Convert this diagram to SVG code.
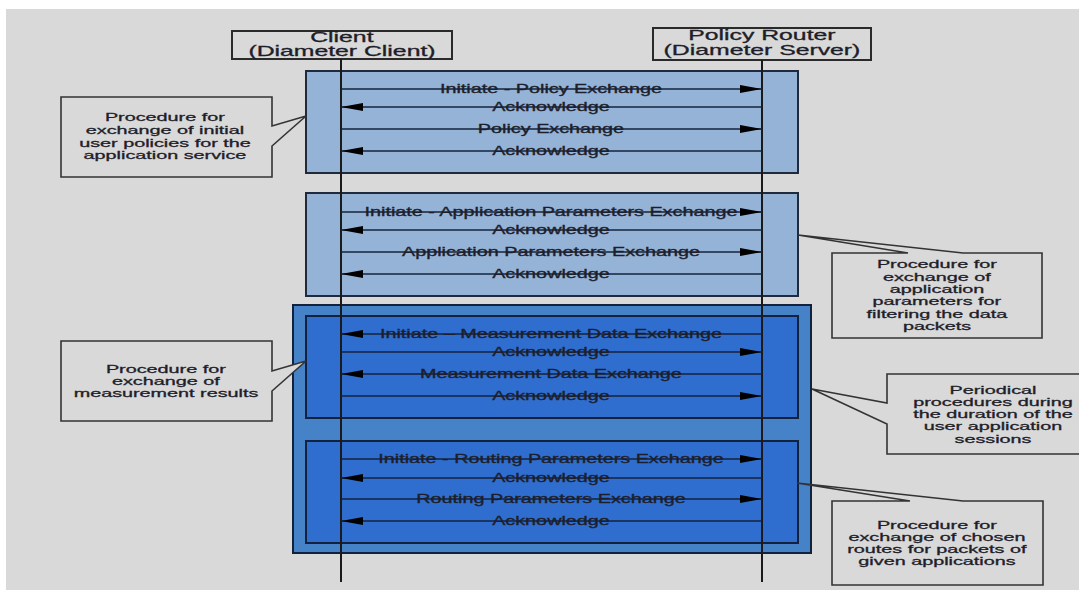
<svg xmlns="http://www.w3.org/2000/svg" width="1079" height="590" viewBox="0 0 1079 590">
  <style>
    text { font-family: "Liberation Sans", Arial, sans-serif; fill: #1e1e2a; stroke: #1e1e2a; stroke-width: 0.3; }
    .s { transform-box: fill-box; transform-origin: center; transform: scaleX(1.65); }
    .sh { transform-box: fill-box; transform-origin: center; transform: scaleX(1.77); }
    .sn { transform-box: fill-box; transform-origin: center; transform: scaleX(1.8); }
    .head { font-size: 14px; text-anchor: middle; }
    .lbl { font-size: 12px; text-anchor: middle; }
    .note { font-size: 11px; text-anchor: middle; }
    .actor { fill: none; stroke: #2a2a2a; stroke-width: 2; }
    .callout { fill: #d9d9d9; stroke: #333; stroke-width: 1.6; stroke-linejoin: miter; }
    .light { fill: #95b3d7; stroke: #1f2b3d; stroke-width: 2; }
    .outer { fill: #4682c8; stroke: #12223c; stroke-width: 2; }
    .inner { fill: #2f6ecf; stroke: #12223c; stroke-width: 2; }
    .msg { stroke: #15233d; stroke-width: 1.5; fill: none; }
    .life { stroke: #1a1a1a; stroke-width: 2; }
  </style>
  <defs>
    <marker id="arrow" markerUnits="userSpaceOnUse" markerWidth="22" markerHeight="8" refX="22" refY="4" orient="auto">
      <path d="M0,0 L22,4 L0,8 Z" fill="#000"/>
    </marker>
  </defs>

  <!-- canvas -->
  <rect x="0" y="0" width="1079" height="590" fill="#ffffff"/>
  <rect x="6" y="9" width="1073" height="581" fill="#d9d9d9"/>

  <!-- procedure blocks -->
  <g id="block-policy">
    <rect class="light" x="306" y="71" width="492" height="102"/>
  </g>
  <g id="block-application">
    <rect class="light" x="306" y="193" width="492" height="103"/>
  </g>
  <g id="block-periodical">
    <rect class="outer" x="293" y="305" width="518" height="248"/>
    <rect class="inner" x="306" y="316" width="492" height="102"/>
    <rect class="inner" x="306" y="441" width="492" height="102"/>
  </g>

  <!-- actors -->
  <g id="client">
    <rect class="actor" x="232" y="31" width="220" height="28"/>
    <text class="head sh" x="342" y="42">Client</text>
    <text class="head sh" x="342" y="56">(Diameter Client)</text>
  </g>
  <g id="policy-router">
    <rect class="actor" x="653" y="28" width="218" height="32"/>
    <text class="head sh" x="762" y="40">Policy Router</text>
    <text class="head sh" x="762" y="55">(Diameter Server)</text>
  </g>

  <!-- messages and lifelines -->
  <g id="connectors">
    <line class="life" x1="341" y1="59" x2="341" y2="582"/>
    <line class="life" x1="762" y1="60" x2="762" y2="582" stroke="#2a2a2a" stroke-width="2.4"/>

    <line class="msg" x1="341" y1="89" x2="762" y2="89" marker-end="url(#arrow)"/>
    <line class="msg" x1="762" y1="107" x2="341" y2="107" marker-end="url(#arrow)"/>
    <line class="msg" x1="341" y1="129" x2="762" y2="129" marker-end="url(#arrow)"/>
    <line class="msg" x1="762" y1="151" x2="341" y2="151" marker-end="url(#arrow)"/>

    <line class="msg" x1="341" y1="212" x2="762" y2="212" marker-end="url(#arrow)"/>
    <line class="msg" x1="762" y1="230" x2="341" y2="230" marker-end="url(#arrow)"/>
    <line class="msg" x1="341" y1="252" x2="762" y2="252" marker-end="url(#arrow)"/>
    <line class="msg" x1="762" y1="274" x2="341" y2="274" marker-end="url(#arrow)"/>

    <line class="msg" x1="762" y1="334" x2="341" y2="334" marker-end="url(#arrow)"/>
    <line class="msg" x1="341" y1="352" x2="762" y2="352" marker-end="url(#arrow)"/>
    <line class="msg" x1="762" y1="374" x2="341" y2="374" marker-end="url(#arrow)"/>
    <line class="msg" x1="341" y1="396" x2="762" y2="396" marker-end="url(#arrow)"/>

    <line class="msg" x1="341" y1="459" x2="762" y2="459" marker-end="url(#arrow)"/>
    <line class="msg" x1="762" y1="478" x2="341" y2="478" marker-end="url(#arrow)"/>
    <line class="msg" x1="341" y1="499" x2="762" y2="499" marker-end="url(#arrow)"/>
    <line class="msg" x1="762" y1="521" x2="341" y2="521" marker-end="url(#arrow)"/>
  </g>

  <!-- message labels -->
  <g id="labels">
    <text class="lbl s" x="551" y="93">Initiate - Policy Exchange</text>
    <text class="lbl s" x="551" y="111">Acknowledge</text>
    <text class="lbl s" x="551" y="133">Policy Exchange</text>
    <text class="lbl s" x="551" y="155">Acknowledge</text>

    <text class="lbl s" x="551" y="216">Initiate - Application Parameters Exchange</text>
    <text class="lbl s" x="551" y="234">Acknowledge</text>
    <text class="lbl s" x="551" y="256">Application Parameters Exchange</text>
    <text class="lbl s" x="551" y="278">Acknowledge</text>

    <text class="lbl s" x="551" y="338">Initiate – Measurement Data Exchange</text>
    <text class="lbl s" x="551" y="356">Acknowledge</text>
    <text class="lbl s" x="551" y="378">Measurement Data Exchange</text>
    <text class="lbl s" x="551" y="400">Acknowledge</text>

    <text class="lbl s" x="551" y="463">Initiate - Routing Parameters Exchange</text>
    <text class="lbl s" x="551" y="482">Acknowledge</text>
    <text class="lbl s" x="551" y="503">Routing Parameters Exchange</text>
    <text class="lbl s" x="551" y="525">Acknowledge</text>
  </g>

  <!-- callouts -->
  <g id="note-initial-policies">
    <path class="callout" d="M61,97 H272 V126 L306,116 L272,146 V177 H61 Z"/>
    <text class="note sn" x="165" y="121">Procedure for</text>
    <text class="note sn" x="165" y="134">exchange of initial</text>
    <text class="note sn" x="165" y="147">user policies for the</text>
    <text class="note sn" x="165" y="159">application service</text>
  </g>
  <g id="note-application-parameters">
    <path class="callout" d="M832,253 H908 L798,235 L963,253 H1042 V338 H832 Z"/>
    <text class="note sn" x="937" y="268">Procedure for</text>
    <text class="note sn" x="937" y="281">exchange of</text>
    <text class="note sn" x="937" y="293">application</text>
    <text class="note sn" x="937" y="305">parameters for</text>
    <text class="note sn" x="937" y="318">filtering the data</text>
    <text class="note sn" x="937" y="330">packets</text>
  </g>
  <g id="note-measurement">
    <path class="callout" d="M61,341 H272 V371 L306,361 L272,391 V421 H61 Z"/>
    <text class="note sn" x="166" y="373">Procedure for</text>
    <text class="note sn" x="166" y="385">exchange of</text>
    <text class="note sn" x="166" y="397">measurement results</text>
  </g>
  <g id="note-periodical">
    <path class="callout" d="M887,374 H1090 V454 H887 V424 L812,389 L887,403 Z"/>
    <text class="note sn" x="993" y="394">Periodical</text>
    <text class="note sn" x="993" y="406">procedures during</text>
    <text class="note sn" x="993" y="418">the duration of the</text>
    <text class="note sn" x="993" y="430">user application</text>
    <text class="note sn" x="993" y="443">sessions</text>
  </g>
  <g id="note-routes">
    <path class="callout" d="M832,501 H910 L797,483 L963,501 H1043 V585 H832 Z"/>
    <text class="note sn" x="937" y="529">Procedure for</text>
    <text class="note sn" x="937" y="541">exchange of chosen</text>
    <text class="note sn" x="937" y="553">routes for packets of</text>
    <text class="note sn" x="937" y="565">given applications</text>
  </g>
</svg>
